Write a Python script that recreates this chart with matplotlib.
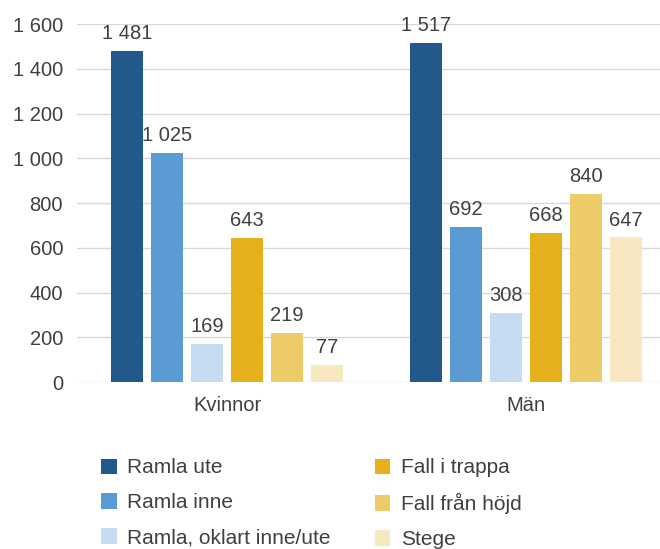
import matplotlib.pyplot as plt
from matplotlib.ticker import FuncFormatter

plt.rcParams['font.family'] = ['Liberation Sans', 'DejaVu Sans']

groups = ['Kvinnor', 'Män']
series = ['Ramla ute', 'Ramla inne', 'Ramla, oklart inne/ute',
          'Fall i trappa', 'Fall från höjd', 'Stege']
values = [
    [1481, 1517],
    [1025, 692],
    [169, 308],
    [643, 668],
    [219, 840],
    [77, 647],
]
colors = ['#23588b', '#5b9bd5', '#c5dcf1', '#e5b01b', '#eecb69', '#f8e8c2']

def sv(x, pos=None):
    return f'{int(x):,}'.replace(',', ' ')

fig = plt.figure(figsize=(6.6, 5.49), dpi=100)
ax = fig.add_axes([77 / 660, 0.304, 583 / 660, 0.652])

step = 40 / 299
width = 32 / 299
text_col = '#404040'
fs = 14.5
for i, (name, vals) in enumerate(zip(series, values)):
    xs = [g + (i - 2.5) * step for g in range(len(groups))]
    ax.bar(xs, vals, width, color=colors[i], label=name, zorder=2)
    for x, v in zip(xs, vals):
        ax.text(x, v + 35, sv(v), ha='center', va='bottom', fontsize=fs, color=text_col)

ax.set_xlim(-150 / 299, 433 / 299)
ax.set_ylim(0, 1600)
ax.set_yticks(range(0, 1601, 200))
ax.yaxis.set_major_formatter(FuncFormatter(sv))
ax.set_xticks(range(len(groups)))
ax.set_xticklabels(groups)
ax.grid(axis='y', color='#d9d9d9', linewidth=1, zorder=0)
for s in ax.spines.values():
    s.set_visible(False)
ax.tick_params(length=0, labelsize=fs, colors=text_col, pad=10)
ax.tick_params(axis='x', pad=10)

fig.legend(loc='upper left', bbox_to_anchor=(0.125, 0.199), ncol=2, frameon=False,
           fontsize=15, labelcolor=text_col, handlelength=0.75, handleheight=0.75,
           handletextpad=0.5, columnspacing=2.1, labelspacing=0.76)

fig.savefig('out.png', dpi=100)
